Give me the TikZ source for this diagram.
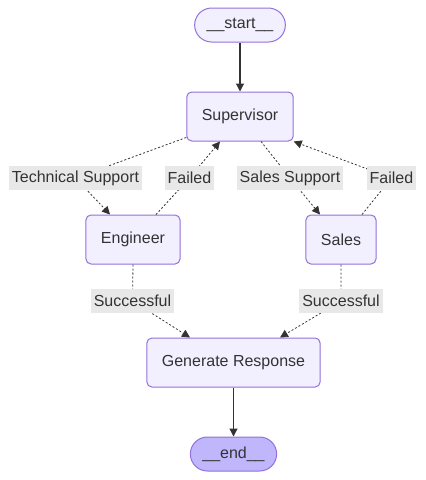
\documentclass[tikz,border=0pt]{standalone}
\usepackage{fontspec}
\setmainfont{Liberation Sans}
\usepackage{tikz}
\usepackage{xcolor}
\usetikzlibrary{arrows.meta}
\definecolor{nodefill}{HTML}{F2F0FF}
\definecolor{nodeline}{HTML}{9370DB}
\definecolor{endfill}{HTML}{BFB6FC}
\definecolor{textgray}{HTML}{333333}
\definecolor{labelfill}{HTML}{E8E8E8}

\begin{document}
\begin{tikzpicture}[
	x = 1pt, y = -1pt,
	every node/.style = {font = \fontsize{16}{19}\selectfont, text = textgray},
	box/.style = {draw = nodeline, fill = nodefill, line width = 1pt, rounded corners = 5pt, minimum height = 49pt, inner xsep = 15pt},
	pill/.style = {draw = nodeline, fill = nodefill, line width = 1pt, rounded corners = 17pt, minimum height = 34pt, inner xsep = 12pt},
	lbl/.style = {fill = labelfill, minimum height = 24pt, inner xsep = 3pt, inner ysep = 0pt},
	solidedge/.style = {draw = textgray, line width = 1.2pt, -{Triangle[length = 8pt, width = 8pt]}},
	dotedge/.style = {draw = textgray, line width = 0.8pt, dash pattern = on 2pt off 2pt, -{Triangle[length = 8pt, width = 8pt]}}
]
\useasboundingbox (0,0) rectangle (426,480);
\node[pill] (start) at (240,25) {\_\_start\_\_};
\node[box] (sup) at (240,116.5) {Supervisor};
\node[box] (eng) at (133,239.5) {Engineer};
\node[box] (sales) at (341,239.5) {Sales};
\node[box] (gen) at (233.5,362.5) {Generate Response};
\node[pill, fill = endfill] (end) at (233.5,454) {\_\_end\_\_};
\coordinate (techpt) at (75.5,178);
\coordinate (failengpt) at (189.5,178);
\coordinate (salespt) at (290,178);
\coordinate (failsalespt) at (391.5,178);
\coordinate (okengpt) at (132.5,301);
\coordinate (oksalespt) at (341,301);
\draw[solidedge] (start) -- (sup);
\draw[dotedge] ([yshift=4pt]sup.south west) -- (techpt) -- ([xshift=-23pt]eng.north);
\draw[dotedge] ([xshift=23pt]eng.north) -- (failengpt) -- ([xshift=-20pt]sup.south);
\draw[dotedge] ([xshift=21pt]sup.south) -- (salespt) -- ([xshift=-21pt]sales.north);
\draw[dotedge] ([xshift=21pt]sales.north) -- (failsalespt) -- (sup.south east);
\draw[dotedge] (eng.south) -- (okengpt) -- ([xshift=-43.5pt]gen.north);
\draw[dotedge] (sales.south) -- (oksalespt) -- ([xshift=46.5pt]gen.north);
\draw[solidedge] (gen) -- (end);
\node[lbl] (tech) at (techpt) {Technical Support};
\node[lbl] (faileng) at (failengpt) {Failed};
\node[lbl] (salessup) at (salespt) {Sales Support};
\node[lbl] (failsales) at (failsalespt) {Failed};
\node[lbl] (okeng) at (okengpt) {Successful};
\node[lbl] (oksales) at (oksalespt) {Successful};
\end{tikzpicture}
\end{document}
